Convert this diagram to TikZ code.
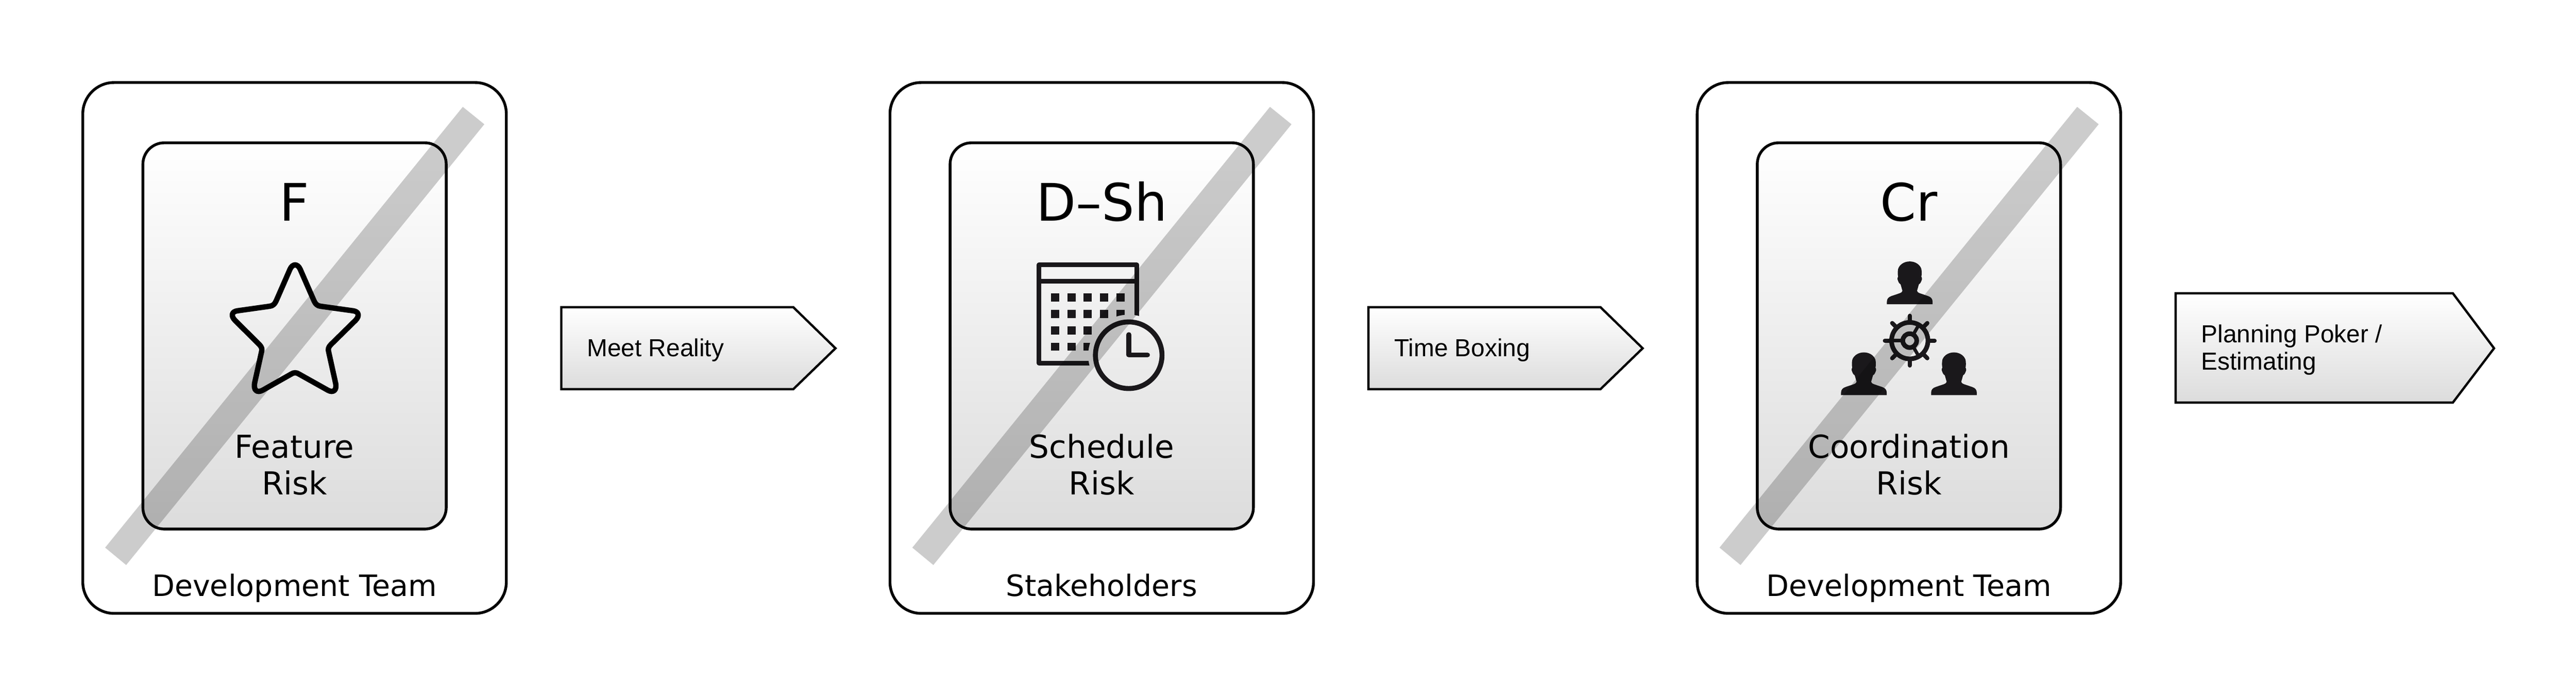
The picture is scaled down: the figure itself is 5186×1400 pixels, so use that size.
\documentclass[tikz,border=0pt]{standalone}
\usepackage{fontspec}
\setmainfont{DejaVu Sans}
\newfontfamily\arrowfont{Liberation Sans}
\definecolor{iconink}{HTML}{1A181B}
\definecolor{shadeend}{HTML}{DCDCDC}
\tikzset{
  outerbox/.style={draw=black,line width=1.4pt,rounded corners=15.75pt},
  innerbox/.style={draw=black,line width=1.4pt,rounded corners=10.75pt,top color=white,bottom color=shadeend},
  arrowbox/.style={draw=black,line width=1.15pt,miter limit=10,top color=white,bottom color=shadeend},
  slash/.style={fill=black,fill opacity=0.2},
  bigletter/.style={inner sep=0pt,anchor=base,font=\fontsize{26}{26}\selectfont},
  risklabel/.style={inner sep=0pt,anchor=base,align=center,font=\fontsize{15.9}{18.25}\selectfont},
  ownerlabel/.style={inner sep=0pt,anchor=base,font=\fontsize{14.8}{16}\selectfont},
  arrowlabel/.style={inner sep=0pt,anchor=base west,align=left,font=\arrowfont\fontsize{12.4}{13.75}\selectfont},
  even odd clip/.code={\pgfseteorule}
}
\newcommand{\riskpanel}[5]{%
  \begin{scope}[shift={(#1,0)}]
    \draw[outerbox] (166.7,166) rectangle (1019.3,1234);
    \draw[innerbox] (287.7,287.3) rectangle (898.3,1064.3);
    \node[bigletter] (#2letter) at (593,444) {#3};
    \node[risklabel] (#2risk) at (593,995) {#4\\Risk};
    \node[ownerlabel] (#2owner) at (593,1200) {#5};
  \end{scope}}
\newcommand{\slashbar}[1]{%
  \fill[slash,shift={(#1,0)}] (211.7,1101.7) -- (931.7,215) -- (975,250) -- (254,1136.7) -- cycle;}
\newcommand{\personicon}[2]{%
  \fill[iconink,shift={(#1,#2)}] (138,258) -- (138,244) .. controls (138,225) and (128,215) .. (111,209)
    -- (61,192) .. controls (50,188) and (44,182) .. (44,177) -- (49,160)
    .. controls (52,150) and (54,140) .. (56,137) .. controls (64,135) and (70,120) .. (74,107)
    .. controls (75,100) and (72,95) .. (70,92) .. controls (73,80) and (73,60) .. (70,45)
    .. controls (62,20) and (35,0) .. (0,0)
    .. controls (-35,0) and (-62,20) .. (-70,45) .. controls (-73,60) and (-73,80) .. (-70,92)
    .. controls (-72,95) and (-75,100) .. (-74,107) .. controls (-70,120) and (-64,135) .. (-56,137)
    .. controls (-54,140) and (-52,150) .. (-49,160) -- (-44,177)
    .. controls (-44,182) and (-50,188) .. (-61,192) -- (-111,209)
    .. controls (-128,215) and (-138,225) .. (-138,244) -- (-138,258) -- cycle;}
\begin{document}
\begin{tikzpicture}[x=0.25pt,y=-0.25pt]
\path[use as bounding box,fill=white] (0,0) rectangle (5186,1400);

\riskpanel{0}{f}{F}{Feature}{Development Team}
\riskpanel{1625}{d}{D–Sh}{Schedule}{Stakeholders}
\riskpanel{3250}{c}{Cr}{Coordination}{Development Team}

% star
\begin{scope}[shift={(100,100)},x=0.16pt,y=-0.192pt]
  \draw[black,line width=2.7pt,line join=round]
    (788,575) -- (830,655) .. controls (836,667) and (842,671) .. (852,672)
    -- (955,684) .. controls (972,686) and (976,697) .. (962,709)
    -- (885,772) .. controls (876,780) and (875,784) .. (878,793)
    -- (899,872) .. controls (905,892) and (892,900) .. (875,892)
    -- (785,850) .. controls (776,845) and (768,845) .. (759,850)
    -- (670,892) .. controls (652,900) and (640,892) .. (645,872)
    -- (666,793) .. controls (669,784) and (668,780) .. (659,772)
    -- (583,709) .. controls (569,697) and (573,686) .. (590,684)
    -- (692,672) .. controls (702,671) and (708,667) .. (714,655)
    -- (756,575) .. controls (764,560) and (780,560) .. (788,575) -- cycle;
\end{scope}

% calendar and clock
\begin{scope}[shift={(2000,450)},x=0.08333pt,y=-0.08333pt]
  \begin{scope}
    \clip[even odd clip] (100,100) rectangle (1100,1000) (817,794) circle[radius=245];
    \draw[iconink,line width=2.33pt,line join=round] (276,249) rectangle (866,841);
    \draw[iconink,line width=2.33pt] (276,346) -- (866,346);
    \foreach \yy/\cols in {422/{348,447,545,644,744},520/{348,447,545,644,744},619/{348,447,545},718/{348,447,545}}{
      \foreach \xx in \cols { \fill[iconink] (\xx,\yy) rectangle ++(49,49); }
    }
  \end{scope}
  \draw[iconink,line width=2.5pt] (817,794) circle[radius=201];
  \draw[iconink,line width=2.5pt,line cap=round,line join=round] (818,670) -- (818,792) -- (930,792);
\end{scope}

% people and wheel
\begin{scope}[shift={(3600,450)},x=0.08333pt,y=-0.08333pt]
  \personicon{734}{228}
  \personicon{457}{777}
  \personicon{1001}{777}
  \begin{scope}[shift={(734,706)}]
    \draw[iconink,line width=2.33pt] (0,0) circle[radius=110];
    \draw[iconink,line width=2.33pt] (0,0) circle[radius=42];
    \foreach \ang in {0,45,...,315}{
      \draw[iconink,line width=2.1pt,line cap=round] (\ang:110) -- (\ang:150);
    }
    \foreach \ang in {180,60,-60}{
      \draw[iconink,line width=1.7pt] (\ang:42) -- (\ang:110);
    }
  \end{scope}
\end{scope}

% arrows
\draw[arrowbox] (1130,618) -- (1597,618) -- (1682,700.7) -- (1597,783) -- (1130,783) -- cycle;
\node[arrowlabel] (meet) at (1181,717.7) {Meet Reality};
\draw[arrowbox] (2755,618) -- (3222,618) -- (3307,700.7) -- (3222,783) -- (2755,783) -- cycle;
\node[arrowlabel] (time) at (2806,717.7) {Time Boxing};
\draw[arrowbox] (4380,590) -- (4938,590) -- (5021,700.7) -- (4938,810) -- (4380,810) -- cycle;
\node[arrowlabel] (poker) at (4431,744) {Planning Poker /\\Estimating};

% strike-through bars
\slashbar{0}
\slashbar{1625}
\slashbar{3250}
\end{tikzpicture}
\end{document}
